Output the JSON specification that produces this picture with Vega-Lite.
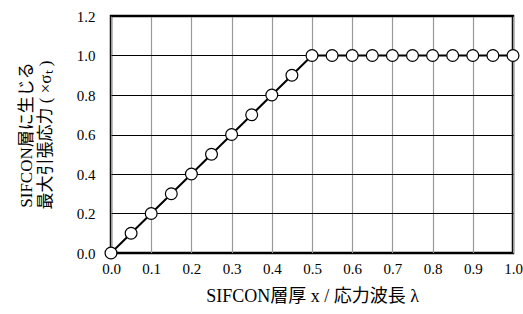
{
  "$schema": "https://vega.github.io/schema/vega-lite/v6.json",
  "width": 402,
  "height": 237,
  "autosize": "none",
  "padding": {"left": 111, "top": 16, "right": 10, "bottom": 61},
  "background": "white",
  "data": {"values": [
    {"x": 0.0, "y": 0.0}, {"x": 0.05, "y": 0.1}, {"x": 0.1, "y": 0.2}, {"x": 0.15, "y": 0.3},
    {"x": 0.2, "y": 0.4}, {"x": 0.25, "y": 0.5}, {"x": 0.3, "y": 0.6}, {"x": 0.35, "y": 0.7},
    {"x": 0.4, "y": 0.8}, {"x": 0.45, "y": 0.9}, {"x": 0.5, "y": 1.0}, {"x": 0.55, "y": 1.0},
    {"x": 0.6, "y": 1.0}, {"x": 0.65, "y": 1.0}, {"x": 0.7, "y": 1.0}, {"x": 0.75, "y": 1.0},
    {"x": 0.8, "y": 1.0}, {"x": 0.85, "y": 1.0}, {"x": 0.9, "y": 1.0}, {"x": 0.95, "y": 1.0},
    {"x": 1.0, "y": 1.0}
  ]},
  "config": {
    "view": {"stroke": "black", "strokeWidth": 2.5},
    "axis": {
      "labelFont": "'Liberation Serif', 'Times New Roman', serif",
      "labelFontSize": 15,
      "labelColor": "black",
      "labelFlush": false,
      "titleFont": "'Liberation Serif', 'Noto Sans CJK JP', serif",
      "titleFontWeight": "normal",
      "titleColor": "black",
      "ticks": false,
      "domain": false
    }
  },
  "encoding": {
    "x": {
      "field": "x", "type": "quantitative",
      "scale": {"domain": [0, 1], "nice": false},
      "axis": {
        "values": [0, 0.1, 0.2, 0.3, 0.4, 0.5, 0.6, 0.7, 0.8, 0.9, 1.0],
        "format": ".1f",
        "gridColor": "#999999",
        "gridWidth": 1.2,
        "gridOpacity": 1,
        "labelPadding": 8,
        "title": "SIFCON層厚 x / 応力波長 λ",
        "titleFontSize": 18,
        "titlePadding": 11
      }
    },
    "y": {
      "field": "y", "type": "quantitative",
      "scale": {"domain": [0, 1.2], "nice": false},
      "axis": {
        "values": [0, 0.2, 0.4, 0.6, 0.8, 1.0, 1.2],
        "format": ".1f",
        "gridColor": "black",
        "gridWidth": 1,
        "gridOpacity": 1,
        "labelPadding": 16,
        "title": ["SIFCON層に生じる", "最大引張応力 ( ×σₜ )"],
        "titleFontSize": 17,
        "titlePadding": 22,
        "titleLineHeight": 19
      }
    }
  },
  "layer": [
    {"mark": {"type": "line", "color": "black", "strokeWidth": 2}},
    {"mark": {"type": "point", "filled": true, "fill": "white", "stroke": "black", "strokeWidth": 1.2, "size": 140, "opacity": 1}}
  ]
}
